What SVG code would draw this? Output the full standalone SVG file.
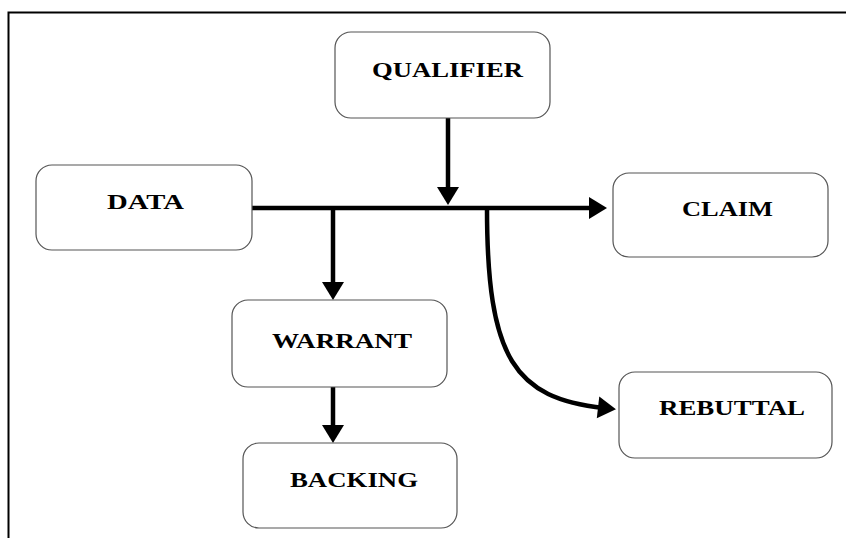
<svg xmlns="http://www.w3.org/2000/svg" width="846" height="538" viewBox="0 0 846 538">
<style>
.box{fill:#fff;stroke:#555;stroke-width:1.2}
.lbl{font-family:"Liberation Serif","Times New Roman",serif;font-weight:bold;font-size:20px;fill:#000}
.con{fill:none;stroke:#000;stroke-width:4.5}
</style>
<defs>
<marker id="ah" markerUnits="userSpaceOnUse" markerWidth="20" markerHeight="24" refX="6" refY="11" orient="auto" overflow="visible">
<path d="M0,0 L18,11 L0,22 z" fill="#000"/>
</marker>
</defs>
<rect width="846" height="538" fill="#fff"/>
<path d="M8.5,538 V12.5 H846" fill="none" stroke="#000" stroke-width="2"/>
<g id="connectors">
<line class="con" x1="448" y1="118" x2="448" y2="193" marker-end="url(#ah)"/>
<line class="con" x1="252" y1="208" x2="595" y2="208" marker-end="url(#ah)"/>
<line class="con" x1="333" y1="208" x2="333" y2="288" marker-end="url(#ah)"/>
<line class="con" x1="333" y1="387" x2="333" y2="431" marker-end="url(#ah)"/>
<path class="con" d="M487,208 C487,360 515,398 604,408" marker-end="url(#ah)"/>
</g>
<g id="qualifier"><rect class="box" x="335" y="32" width="215" height="86" rx="16"/><text class="lbl" x="372" y="77" textLength="151" lengthAdjust="spacingAndGlyphs">QUALIFIER</text></g>
<g id="data"><rect class="box" x="36" y="165" width="216" height="85" rx="16"/><text class="lbl" x="107" y="209" textLength="77" lengthAdjust="spacingAndGlyphs">DATA</text></g>
<g id="claim"><rect class="box" x="613" y="173" width="215" height="84" rx="16"/><text class="lbl" x="682" y="216" textLength="91" lengthAdjust="spacingAndGlyphs">CLAIM</text></g>
<g id="warrant"><rect class="box" x="232" y="300" width="215" height="87" rx="16"/><text class="lbl" x="272" y="348" textLength="140" lengthAdjust="spacingAndGlyphs">WARRANT</text></g>
<g id="rebuttal"><rect class="box" x="619" y="372" width="213" height="86" rx="16"/><text class="lbl" x="659" y="415" textLength="146" lengthAdjust="spacingAndGlyphs">REBUTTAL</text></g>
<g id="backing"><rect class="box" x="243" y="443" width="214" height="85" rx="16"/><text class="lbl" x="290" y="487" textLength="128" lengthAdjust="spacingAndGlyphs">BACKING</text></g>
</svg>
